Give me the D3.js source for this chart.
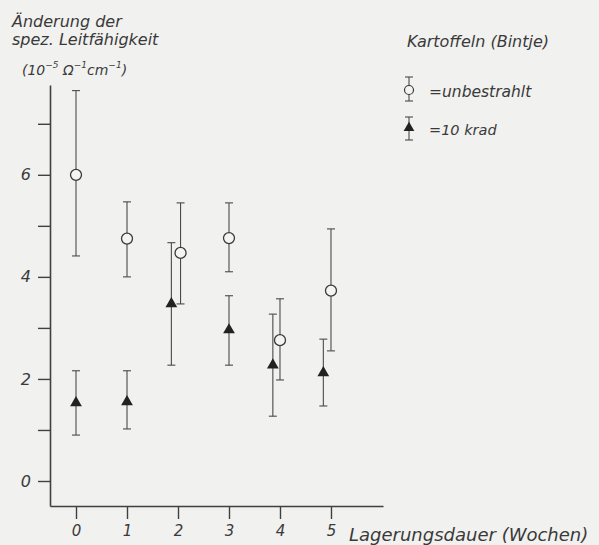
<!DOCTYPE html>
<html lang="de">
<head>
<meta charset="UTF-8">
<title>Leitfähigkeit Kartoffeln</title>
<script src="https://cdn.jsdelivr.net/npm/d3@7"></script>
<style>
  body { margin: 0; background: #f1f1ef; }
  text { font-family: "DejaVu Sans", sans-serif; font-style: italic; fill: #3a3a3a; }
</style>
</head>
<body>
<script>
    var weeksUnb = [0, 1, 2.05, 3, 4, 5]
    var meanUnb = [6.0, 4.75, 4.47, 4.76, 2.76, 3.73]
    var lowUnb = [4.41, 4.0, 3.47, 4.1, 1.98, 2.55]
    var highUnb = [7.65, 5.47, 5.45, 5.45, 3.57, 4.94]

    var weeksKrad = [0, 1, 1.87, 3, 3.86, 4.85]
    var meanKrad = [1.53, 1.55, 3.47, 2.96, 2.27, 2.12]
    var lowKrad = [0.9, 1.02, 2.27, 2.27, 1.27, 1.47]
    var highKrad = [2.16, 2.16, 4.67, 3.63, 3.27, 2.78]

    var xTicks = [0, 1, 2, 3, 4, 5]
    var yTicks = [0, 1, 2, 3, 4, 5, 6, 7]

    var width = 599
    var height = 545

    var svg = d3.select('body')
        .append('svg')
        .attr('width', width)
        .attr('height', height)

    var x = d3.scaleLinear().domain([-0.51, 6.02]).range([50, 383])
    var y = d3.scaleLinear().domain([-0.49, 7.76]).range([506, 85])

    var axisColor = '#404040'

    // y-Achse
    var yAxis = d3.axisLeft(y)
        .tickValues(yTicks)
        .tickSize(12)
        .tickSizeOuter(0)
        .tickPadding(7)
        .tickFormat(function (d) { return d % 2 === 0 ? d : '' })

    var gy = svg.append('g')
        .attr('transform', 'translate(50,0)')
        .call(yAxis)
    gy.select('.domain').attr('stroke', axisColor).attr('stroke-width', 1.6)
    gy.selectAll('.tick line').attr('stroke', axisColor).attr('stroke-width', 1.4)
    gy.selectAll('.tick text').attr('font-size', 16).style('font-family', '"DejaVu Sans", sans-serif').attr('fill', '#555')

    // x-Achse
    var xAxis = d3.axisBottom(x)
        .tickValues(xTicks)
        .tickSize(13)
        .tickSizeOuter(0)
        .tickPadding(6)
        .tickFormat(d3.format('d'))

    var gx = svg.append('g')
        .attr('transform', 'translate(0,506)')
        .call(xAxis)
    gx.select('.domain').attr('stroke', axisColor).attr('stroke-width', 1.6)
    gx.selectAll('.tick text').attr('font-size', 15).style('font-family', '"DejaVu Sans", sans-serif').attr('fill', '#555')
    gx.selectAll('.tick line').attr('stroke', axisColor).attr('stroke-width', 1.4)

    // Achsenbeschriftungen
    var ylab = svg.append('text').attr('x', 12).attr('font-size', 16)
    ylab.append('tspan').attr('x', 12).attr('y', 27).text('Änderung der')
    ylab.append('tspan').attr('x', 12).attr('y', 45).text('spez. Leitfähigkeit')

    var unit = svg.append('text').attr('x', 22).attr('y', 75).attr('font-size', 14)
    unit.append('tspan').text('(10')
    unit.append('tspan').attr('dy', -7).attr('font-size', 9).text('−5')
    unit.append('tspan').attr('dy', 7).text(' Ω')
    unit.append('tspan').attr('dy', -7).attr('font-size', 9).text('−1')
    unit.append('tspan').attr('dy', 7).text('cm')
    unit.append('tspan').attr('dy', -7).attr('font-size', 9).text('−1')
    unit.append('tspan').attr('dy', 7).text(')')

    svg.append('text')
        .attr('x', 349).attr('y', 541)
        .attr('font-size', 18)
        .text('Lagerungsdauer (Wochen)')

    // Fehlerbalken + Symbole
    function rows(w, m, lo, hi) {
        return w.map(function (d, i) { return { w: d, m: m[i], lo: lo[i], hi: hi[i] } })
    }

    function errorBars(data) {
        var g = svg.append('g').attr('stroke', '#4a4a4a').attr('stroke-width', 1.1)
        g.selectAll('line.v').data(data).enter().append('line')
            .attr('x1', function (d) { return x(d.w) })
            .attr('x2', function (d) { return x(d.w) })
            .attr('y1', function (d) { return y(d.lo) })
            .attr('y2', function (d) { return y(d.hi) })
        g.selectAll('line.t').data(data).enter().append('line')
            .attr('x1', function (d) { return x(d.w) - 4 })
            .attr('x2', function (d) { return x(d.w) + 4 })
            .attr('y1', function (d) { return y(d.hi) })
            .attr('y2', function (d) { return y(d.hi) })
        g.selectAll('line.b').data(data).enter().append('line')
            .attr('x1', function (d) { return x(d.w) - 4 })
            .attr('x2', function (d) { return x(d.w) + 4 })
            .attr('y1', function (d) { return y(d.lo) })
            .attr('y2', function (d) { return y(d.lo) })
    }

    var unb = rows(weeksUnb, meanUnb, lowUnb, highUnb)
    var krad = rows(weeksKrad, meanKrad, lowKrad, highKrad)

    errorBars(krad)
    errorBars(unb)

    var tri = d3.symbol().type(d3.symbolTriangle).size(60)

    svg.selectAll('path.krad').data(krad).enter().append('path')
        .attr('d', tri)
        .attr('transform', function (d) { return 'translate(' + x(d.w) + ',' + y(d.m) + ')' })
        .attr('fill', '#222')

    svg.selectAll('circle.unb').data(unb).enter().append('circle')
        .attr('cx', function (d) { return x(d.w) })
        .attr('cy', function (d) { return y(d.m) })
        .attr('r', 5.5)
        .attr('fill', '#f4f4f2')
        .attr('stroke', '#3a3a3a')
        .attr('stroke-width', 1.3)

    // Legende
    svg.append('text').attr('x', 407).attr('y', 47).attr('font-size', 16).text('Kartoffeln (Bintje)')

    var lg = svg.append('g').attr('stroke', '#4a4a4a').attr('stroke-width', 1.1)
    var legendBars = [[409, 77, 101], [409, 117, 140]]
    legendBars.forEach(function (b) {
        lg.append('line').attr('x1', b[0]).attr('x2', b[0]).attr('y1', b[1]).attr('y2', b[2])
        lg.append('line').attr('x1', b[0] - 4).attr('x2', b[0] + 4).attr('y1', b[1]).attr('y2', b[1])
        lg.append('line').attr('x1', b[0] - 4).attr('x2', b[0] + 4).attr('y1', b[2]).attr('y2', b[2])
    })
    svg.append('circle').attr('cx', 409).attr('cy', 90).attr('r', 4.5)
        .attr('fill', '#f4f4f2').attr('stroke', '#3a3a3a').attr('stroke-width', 1.2)
    svg.append('path').attr('d', d3.symbol().type(d3.symbolTriangle).size(50))
        .attr('transform', 'translate(409,128)').attr('fill', '#222')

    svg.append('text').attr('x', 429).attr('y', 97).attr('font-size', 15.5).text('=unbestrahlt')
    svg.append('text').attr('x', 429).attr('y', 135).attr('font-size', 14.5).text('=10 krad')
</script>
</body>
</html>
